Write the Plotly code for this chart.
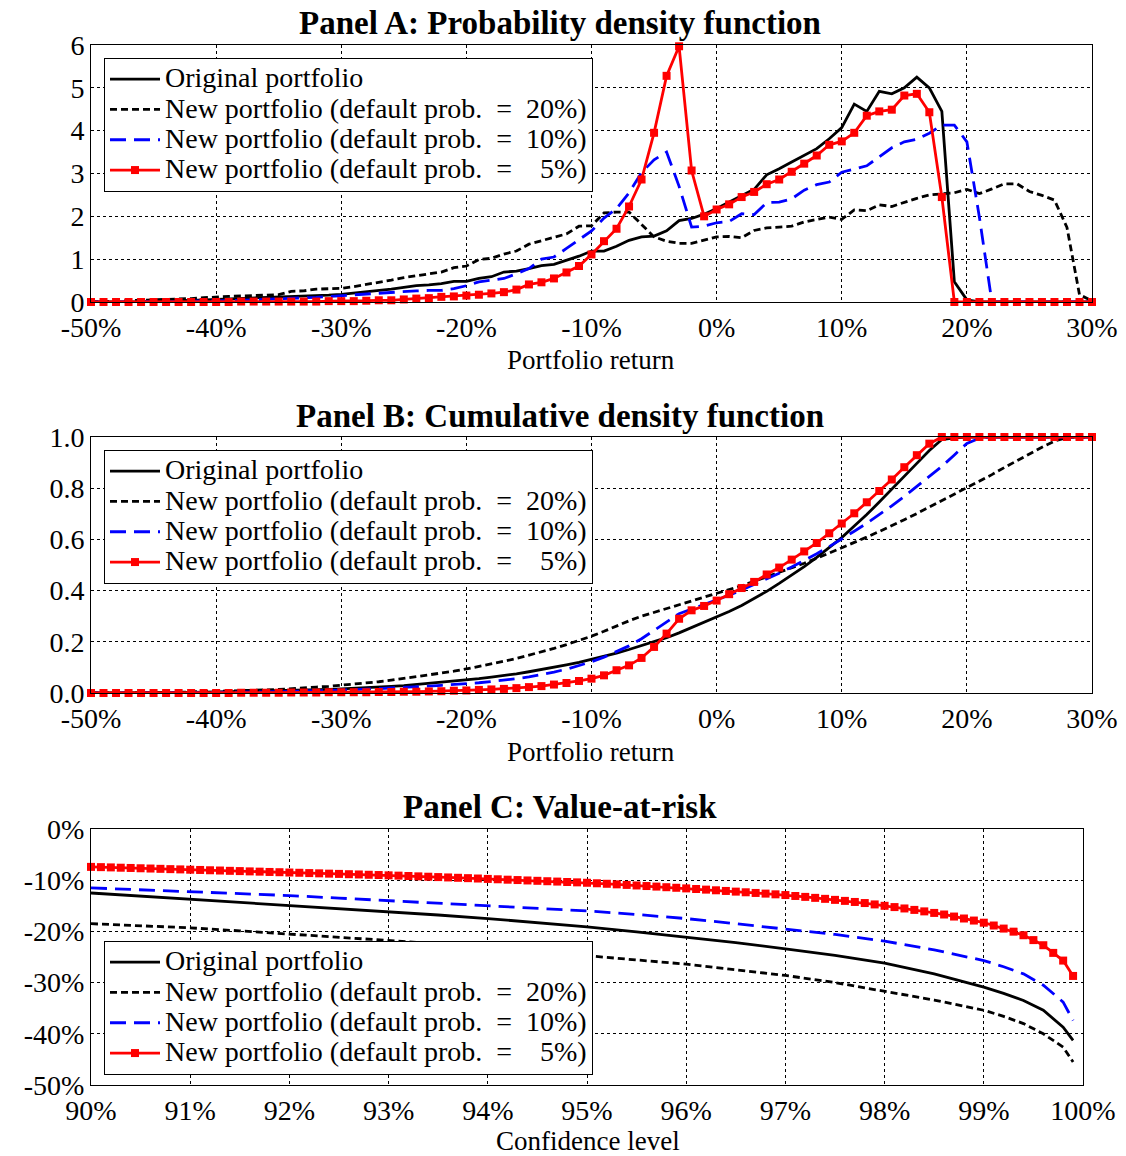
import plotly.graph_objects as go

# ---------------- data ----------------
returns_pct = list(range(-50, 31))  # portfolio return, %

pdf_original = [0.0, 0.0, 0.01, 0.01, 0.01, 0.02, 0.02, 0.03, 0.04, 0.05,
                0.06, 0.07, 0.08, 0.09, 0.10, 0.11, 0.12, 0.14, 0.15, 0.16,
                0.18, 0.21, 0.23, 0.26, 0.30, 0.34, 0.38, 0.40, 0.43, 0.48,
                0.48, 0.55, 0.59, 0.70, 0.72, 0.78, 0.85, 0.88, 0.98, 1.07,
                1.19, 1.19, 1.30, 1.44, 1.52, 1.54, 1.66, 1.90, 1.95, 2.05,
                2.18, 2.33, 2.49, 2.63, 2.97, 3.11, 3.27, 3.42, 3.58, 3.81,
                4.07, 4.62, 4.45, 4.92, 4.86, 5.00, 5.25, 5.00, 4.45, 0.47,
                0.05, 0.0, 0.0, 0.0, 0.0, 0.0, 0.0, 0.0, 0.0, 0.0, 0.0]
pdf_new20 = [0.0, 0.01, 0.01, 0.02, 0.03, 0.04, 0.05, 0.07, 0.08, 0.10,
             0.12, 0.13, 0.14, 0.15, 0.15, 0.17, 0.25, 0.26, 0.30, 0.31,
             0.32, 0.36, 0.41, 0.45, 0.51, 0.57, 0.61, 0.65, 0.70, 0.80,
             0.84, 0.99, 1.02, 1.12, 1.19, 1.35, 1.43, 1.50, 1.59, 1.77,
             1.78, 2.08, 2.10, 2.10, 1.82, 1.52, 1.42, 1.37, 1.37, 1.44,
             1.52, 1.53, 1.50, 1.67, 1.73, 1.75, 1.77, 1.87, 1.93, 1.98,
             1.93, 2.15, 2.13, 2.27, 2.23, 2.33, 2.42, 2.50, 2.53, 2.55,
             2.63, 2.53, 2.64, 2.76, 2.76, 2.58, 2.49, 2.38, 1.74, 0.17, 0.03]
pdf_new10 = [0.0, 0.0, 0.0, 0.0, 0.0, 0.01, 0.01, 0.01, 0.02, 0.02,
             0.03, 0.03, 0.04, 0.05, 0.06, 0.07, 0.08, 0.09, 0.11, 0.13,
             0.15, 0.17, 0.18, 0.20, 0.22, 0.24, 0.26, 0.27, 0.27, 0.31,
             0.38, 0.47, 0.51, 0.55, 0.66, 0.78, 1.00, 1.05, 1.25, 1.45,
             1.66, 1.96, 2.18, 2.55, 3.02, 3.32, 3.50, 2.70, 1.75, 1.77,
             1.85, 1.88, 2.06, 2.04, 2.32, 2.33, 2.41, 2.61, 2.74, 2.80,
             3.03, 3.10, 3.18, 3.39, 3.60, 3.74, 3.80, 3.94, 4.13, 4.13,
             3.74, 1.98, 0.0, 0.0, 0.0, 0.0, 0.0, 0.0, 0.0, 0.0, 0.0]
pdf_new5 = [0.0, 0.0, 0.0, 0.0, 0.0, 0.0, 0.0, 0.0, 0.0, 0.0,
            0.0, 0.0, 0.01, 0.01, 0.01, 0.01, 0.01, 0.01, 0.01, 0.02,
            0.02, 0.02, 0.03, 0.04, 0.04, 0.06, 0.08, 0.09, 0.12, 0.13,
            0.15, 0.17, 0.20, 0.23, 0.29, 0.41, 0.46, 0.55, 0.69, 0.84,
            1.11, 1.42, 1.71, 2.23, 2.86, 3.95, 5.28, 5.97, 3.07, 2.00,
            2.16, 2.28, 2.45, 2.57, 2.75, 2.86, 3.04, 3.23, 3.42, 3.67,
            3.75, 3.95, 4.35, 4.45, 4.49, 4.82, 4.86, 4.43, 2.45, 0.0,
            0.0, 0.0, 0.0, 0.0, 0.0, 0.0, 0.0, 0.0, 0.0, 0.0, 0.0]

cdf_original = [0.0, 0.0, 0.0, 0.001, 0.001, 0.001, 0.002, 0.002, 0.002, 0.003,
                0.004, 0.004, 0.005, 0.006, 0.007, 0.008, 0.009, 0.011, 0.012, 0.014,
                0.016, 0.018, 0.020, 0.023, 0.026, 0.029, 0.033, 0.037, 0.041, 0.046,
                0.050, 0.056, 0.062, 0.068, 0.075, 0.083, 0.091, 0.100, 0.110, 0.120,
                0.131, 0.143, 0.156, 0.170, 0.185, 0.200, 0.216, 0.235, 0.255, 0.275,
                0.296, 0.318, 0.342, 0.368, 0.397, 0.428, 0.460, 0.494, 0.530, 0.567,
                0.607, 0.652, 0.697, 0.746, 0.795, 0.845, 0.897, 0.947, 0.990, 0.997,
                1.0, 1.0, 1.0, 1.0, 1.0, 1.0, 1.0, 1.0, 1.0, 1.0, 1.0]
cdf_new20 = [0.0, 0.0, 0.001, 0.001, 0.001, 0.002, 0.002, 0.003, 0.004, 0.005,
             0.006, 0.007, 0.009, 0.010, 0.012, 0.014, 0.016, 0.019, 0.023, 0.026,
             0.030, 0.034, 0.039, 0.044, 0.050, 0.057, 0.063, 0.070, 0.077, 0.085,
             0.094, 0.103, 0.113, 0.124, 0.135, 0.147, 0.160, 0.174, 0.189, 0.205,
             0.222, 0.241, 0.262, 0.282, 0.300, 0.315, 0.329, 0.343, 0.357, 0.372,
             0.388, 0.404, 0.419, 0.436, 0.453, 0.470, 0.488, 0.507, 0.526, 0.546,
             0.566, 0.587, 0.609, 0.631, 0.653, 0.677, 0.701, 0.726, 0.751, 0.776,
             0.802, 0.827, 0.853, 0.881, 0.908, 0.935, 0.960, 0.984, 0.998, 1.0, 1.0]
cdf_new10 = [0.0, 0.0, 0.0, 0.0, 0.0, 0.001, 0.001, 0.001, 0.002, 0.002,
             0.002, 0.003, 0.003, 0.004, 0.004, 0.005, 0.006, 0.007, 0.008, 0.010,
             0.011, 0.013, 0.015, 0.017, 0.019, 0.021, 0.024, 0.027, 0.030, 0.033,
             0.036, 0.040, 0.045, 0.050, 0.056, 0.063, 0.072, 0.082, 0.093, 0.107,
             0.122, 0.140, 0.161, 0.184, 0.212, 0.245, 0.280, 0.310, 0.328, 0.345,
             0.363, 0.382, 0.402, 0.423, 0.445, 0.468, 0.492, 0.517, 0.544, 0.572,
             0.601, 0.632, 0.663, 0.696, 0.731, 0.768, 0.806, 0.845, 0.885, 0.930,
             0.975, 0.995, 1.0, 1.0, 1.0, 1.0, 1.0, 1.0, 1.0, 1.0, 1.0]
cdf_new5 = [0.0, 0.0, 0.0, 0.0, 0.0, 0.0, 0.0, 0.0, 0.0, 0.0,
            0.0, 0.0, 0.001, 0.001, 0.001, 0.001, 0.002, 0.002, 0.002, 0.003,
            0.003, 0.003, 0.003, 0.004, 0.004, 0.005, 0.005, 0.006, 0.007, 0.009,
            0.010, 0.012, 0.014, 0.016, 0.019, 0.023, 0.027, 0.033, 0.039, 0.047,
            0.056, 0.069, 0.089, 0.108, 0.137, 0.180, 0.232, 0.290, 0.323, 0.340,
            0.361, 0.386, 0.410, 0.434, 0.463, 0.490, 0.521, 0.553, 0.586, 0.624,
            0.662, 0.702, 0.745, 0.789, 0.834, 0.882, 0.929, 0.974, 1.0, 1.0,
            1.0, 1.0, 1.0, 1.0, 1.0, 1.0, 1.0, 1.0, 1.0, 1.0, 1.0]

# Value-at-risk (%), by confidence level (%)
conf_coarse = [90.0, 90.5, 91.0, 91.5, 92.0, 92.5, 93.0, 93.5, 94.0, 94.5,
               95.0, 95.5, 96.0, 96.5, 97.0, 97.5, 98.0, 98.5, 99.0, 99.2,
               99.4, 99.6, 99.8, 99.9]
var_original = [-12.5, -13.1, -13.7, -14.3, -14.9, -15.5, -16.1, -16.8, -17.5, -18.3,
                -19.1, -20.1, -21.1, -22.2, -23.4, -24.7, -26.2, -28.3, -30.9, -32.1,
                -33.5, -35.4, -38.7, -41.3]
var_new20 = [-18.5, -18.9, -19.3, -19.9, -20.5, -21.1, -21.7, -22.4, -23.1, -23.9,
             -24.7, -25.5, -26.4, -27.5, -28.6, -30.0, -31.7, -33.4, -35.4, -36.6,
             -38.0, -40.0, -42.6, -45.5]
var_new10 = [-11.5, -11.85, -12.2, -12.6, -13.0, -13.5, -14.0, -14.5, -15.0, -15.5,
             -16.0, -16.7, -17.5, -18.5, -19.5, -20.6, -21.9, -23.6, -25.7, -26.9,
             -28.3, -30.5, -33.8, -37.4]
conf_fine = [round(90.0 + 0.1 * i, 1) for i in range(100)]
var_new5 = [-7.40, -7.45, -7.50, -7.56, -7.61, -7.67, -7.72, -7.78, -7.84, -7.89,
            -7.95, -8.00, -8.06, -8.11, -8.17, -8.22, -8.28, -8.33, -8.39, -8.44,
            -8.50, -8.55, -8.61, -8.66, -8.72, -8.77, -8.83, -8.88, -8.94, -8.99,
            -9.05, -9.11, -9.18, -9.25, -9.32, -9.39, -9.46, -9.53, -9.60, -9.67,
            -9.75, -9.82, -9.90, -9.97, -10.05, -10.12, -10.20, -10.27, -10.35, -10.42,
            -10.50, -10.60, -10.70, -10.81, -10.92, -11.03, -11.14, -11.25, -11.37, -11.48,
            -11.60, -11.72, -11.84, -11.97, -12.10, -12.23, -12.36, -12.49, -12.62, -12.76,
            -12.90, -13.08, -13.26, -13.45, -13.64, -13.84, -14.04, -14.25, -14.46, -14.73,
            -15.00, -15.25, -15.52, -15.80, -16.09, -16.39, -16.70, -17.10, -17.48, -17.88,
            -18.30, -18.85, -19.45, -20.05, -20.75, -21.70, -22.70, -24.20, -25.70, -28.70]

series_names = ["Original portfolio",
                "New portfolio (default prob.\u2002=\u200220%)",
                "New portfolio (default prob.\u2002=\u200210%)",
                "New portfolio (default prob.\u2002=\u2002\u20075%)"]

ret_ticks = [-50, -40, -30, -20, -10, 0, 10, 20, 30]
ret_ticktext = ["-50%", "-40%", "-30%", "-20%", "-10%", "0%", "10%", "20%", "30%"]
pdf_ticks = [0, 1, 2, 3, 4, 5, 6]
cdf_ticks = [0.0, 0.2, 0.4, 0.6, 0.8, 1.0]
cdf_ticktext = ["0.0", "0.2", "0.4", "0.6", "0.8", "1.0"]
conf_ticks = [90, 91, 92, 93, 94, 95, 96, 97, 98, 99, 100]
conf_ticktext = ["90%", "91%", "92%", "93%", "94%", "95%", "96%", "97%", "98%", "99%", "100%"]
var_ticks = [0, -10, -20, -30, -40, -50]
var_ticktext = ["0%", "-10%", "-20%", "-30%", "-40%", "-50%"]

panel_titles = ["Panel A: Probability density function",
                "Panel B: Cumulative density function",
                "Panel C: Value-at-risk"]

# ---------------- styling ----------------
W, H = 1126, 1156
FONT = "Liberation Serif"
styles = [
    dict(mode="lines", line=dict(color="black", width=2.8)),
    dict(mode="lines", line=dict(color="black", width=2.8, dash="7px,4px")),
    dict(mode="lines", line=dict(color="#0000ff", width=2.8, dash="16px,8px")),
    dict(mode="lines+markers", line=dict(color="#ff0000", width=2.8),
         marker=dict(symbol="square", size=8, color="#ff0000")),
]

fig = go.Figure()
panels = [
    ("x", "y", "legend", [returns_pct] * 4, [pdf_original, pdf_new20, pdf_new10, pdf_new5]),
    ("x2", "y2", "legend2", [returns_pct] * 4, [cdf_original, cdf_new20, cdf_new10, cdf_new5]),
    ("x3", "y3", "legend3", [conf_coarse, conf_coarse, conf_coarse, conf_fine],
     [var_original, var_new20, var_new10, var_new5]),
]
for xa, ya, lg, xs, ys in panels:
    for k in range(4):
        fig.add_trace(go.Scatter(x=xs[k], y=ys[k], xaxis=xa, yaxis=ya, legend=lg,
                                 name='<span style="font-size:28px">' + series_names[k] + "</span>",
                                 cliponaxis=False, **styles[k]))

def fx(p):
    return p / W

def fy(p):
    return 1 - p / H

axis_common = dict(showline=True, mirror=True, linecolor="black", linewidth=1,
                   showgrid=True, gridcolor="black", griddash="dot", gridwidth=1,
                   zeroline=False, ticks="", tickmode="array", automargin=False,
                   tickfont=dict(family=FONT, size=28, color="black"))

legend_common = dict(xanchor="left", yanchor="top", bgcolor="white", bordercolor="black",
                     borderwidth=1, font=dict(family=FONT, size=21, color="black"),
                     tracegroupgap=0, itemwidth=50)

fig.update_layout(
    width=W, height=H, margin=dict(l=0, r=0, t=0, b=0),
    paper_bgcolor="white", plot_bgcolor="white", showlegend=True,
    xaxis=dict(domain=[fx(91), fx(1092)], range=[-50, 30], tickvals=ret_ticks,
               ticktext=ret_ticktext, anchor="y", **axis_common),
    yaxis=dict(domain=[fy(302), fy(45)], range=[0, 6], tickvals=pdf_ticks,
               anchor="x", **axis_common),
    xaxis2=dict(domain=[fx(91), fx(1092)], range=[-50, 30], tickvals=ret_ticks,
                ticktext=ret_ticktext, anchor="y2", **axis_common),
    yaxis2=dict(domain=[fy(693), fy(437)], range=[0, 1], tickvals=cdf_ticks,
                ticktext=cdf_ticktext, anchor="x2", **axis_common),
    xaxis3=dict(domain=[fx(91), fx(1083)], range=[90, 100], tickvals=conf_ticks,
                ticktext=conf_ticktext, anchor="y3", **axis_common),
    yaxis3=dict(domain=[fy(1085), fy(829)], range=[-50, 0], tickvals=var_ticks,
                ticktext=var_ticktext, anchor="x3", **axis_common),
    legend=dict(x=fx(104), y=fy(58), **legend_common),
    legend2=dict(x=fx(104), y=fy(450), **legend_common),
    legend3=dict(x=fx(104), y=fy(941), **legend_common),
)

annots = []
for t, ypx in zip(panel_titles, [23, 416, 807]):
    annots.append(dict(text="<b>" + t + "</b>", x=fx(560), y=fy(ypx), xref="paper", yref="paper",
                       xanchor="center", yanchor="middle", showarrow=False,
                       font=dict(family=FONT, size=33, color="black")))
for t, xpx, ypx in [("Portfolio return", 591, 360), ("Portfolio return", 591, 752),
                    ("Confidence level", 588, 1141)]:
    annots.append(dict(text=t, x=fx(xpx), y=fy(ypx), xref="paper", yref="paper",
                       xanchor="center", yanchor="middle", showarrow=False,
                       font=dict(family=FONT, size=27, color="black")))
fig.update_layout(annotations=annots)

fig.write_html("out.html")
